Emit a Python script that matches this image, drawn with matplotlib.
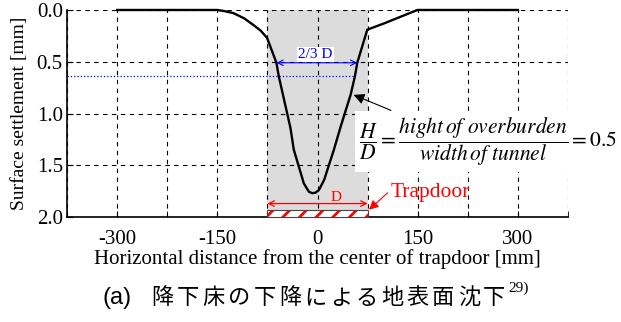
import matplotlib.pyplot as plt
from matplotlib.patches import Rectangle

plt.rcParams['font.family'] = ['Liberation Serif', 'DejaVu Serif']
plt.rcParams['mathtext.fontset'] = 'stix'
plt.rcParams['axes.unicode_minus'] = False
plt.rcParams['hatch.linewidth'] = 2.0

# settlement profile
dist = [-300, -150, -140, -126, -110, -96, -85, -75.5, -61.5, -58, -40.5, -35.5, -20.5, -13, -8, -3,
        2, 10, 24.5, 34.5, 49.5, 56, 59.5, 74.5, 99.5, 124.5, 149.5, 300]
settle = [0.0, 0.0, 0.01, 0.03, 0.08, 0.145, 0.2, 0.27, 0.51, 0.64, 1.14, 1.35, 1.675, 1.755, 1.77, 1.765,
          1.74, 1.64, 1.35, 1.13, 0.82, 0.64, 0.51, 0.19, 0.13, 0.065, 0.0, 0.0]

trap_l, trap_r = -75, 75
trap_top = 1.93
two_thirds_y = 0.64
dotted_end = 56
arrow_23 = (-61.5, 59.5, 0.51)
arrow_d_y = 1.87

xticks_major = [-300, -150, 0, 150, 300]
xticks_minor = [-375, -225, -75, 75, 225, 375]
yticks = [0.0, 0.5, 1.0, 1.5, 2.0]

caption_head = '(a)'
caption_body = '降下床の下降による地表面沈下'
caption_ref = '29)'

fig = plt.figure(figsize=(6.21, 3.22), dpi=100)
ax = fig.add_axes([0.1079, 0.326, 0.8068, 0.643])

ax.axvspan(trap_l, trap_r, color='#dcdcdc', zorder=0.2, lw=0)
ax.plot(dist, settle, color='black', lw=1.7, zorder=3, clip_on=False)

ax.set_xlim(-375, 375)
ax.set_ylim(2.0, 0.0)
ax.set_xticks(xticks_major)
ax.set_xticks(xticks_minor, minor=True)
ax.set_yticks(yticks)
ax.set_yticklabels(['%.1f' % v for v in yticks])
ax.tick_params(axis='x', direction='in', length=4, labelsize=15, pad=9)
ax.tick_params(axis='y', direction='in', length=4, labelsize=15, pad=3)
ax.tick_params(which='minor', direction='in', length=4)
ax.grid(True, which='both', ls=(0, (4, 4)), color='black', lw=0.8)
ax.set_axisbelow(True)
for s in ['top', 'right']:
    ax.spines[s].set_visible(False)
ax.spines['left'].set_linewidth(1.2)
ax.spines['bottom'].set_linewidth(1.2)

ax.set_xlabel('Horizontal distance from the center of trapdoor [mm]', fontsize=15)
ax.set_ylabel('Surface settlement [mm]', fontsize=14)
ax.xaxis.set_label_coords(0.5, -0.155)
ax.yaxis.set_label_coords(-0.078, 0.5)

# 2/3 D marker
ax.plot([-375, dotted_end], [two_thirds_y, two_thirds_y], ls=':', color='blue', lw=0.9, zorder=2)
ax.annotate('', xy=(arrow_23[0], arrow_23[2]), xytext=(arrow_23[1], arrow_23[2]),
            arrowprops=dict(arrowstyle='<->', color='blue', lw=0.8, shrinkA=0, shrinkB=0), zorder=4)
ax.text(-3, 0.43, '2/3 D', color='blue', fontsize=11, ha='center', va='center',
        bbox=dict(facecolor='white', edgecolor='none', pad=1), zorder=4)

# trapdoor
ax.add_patch(Rectangle((trap_l, trap_top), trap_r - trap_l, 2.0 - trap_top, facecolor='white',
                       edgecolor='red', hatch='//', lw=0, zorder=4, clip_on=False))
ax.add_patch(Rectangle((trap_l, trap_top), trap_r - trap_l, 2.0 - trap_top, facecolor='none',
                       edgecolor='#444444', lw=0.8, zorder=5, clip_on=False))
ax.annotate('', xy=(trap_l, arrow_d_y), xytext=(trap_r, arrow_d_y),
            arrowprops=dict(arrowstyle='<->', color='red', lw=0.9, shrinkA=0, shrinkB=0), zorder=4)
ax.text(27, 1.81, 'D', color='red', fontsize=11, ha='center', va='center', zorder=4)
ax.annotate('Trapdoor', xy=(77, 1.93), xytext=(109, 1.76), color='red', fontsize=15.5,
            ha='left', va='center',
            arrowprops=dict(arrowstyle='-|>', color='red', lw=0.8, mutation_scale=14,
                            shrinkA=0, shrinkB=0, relpos=(0, 0.6)))

# H/D note
ax.annotate('', xy=(54, 0.82), xytext=(110, 0.97),
            arrowprops=dict(arrowstyle='-|>', color='black', lw=0.8, mutation_scale=16,
                            shrinkA=0, shrinkB=0), zorder=6)
ax.text(256, 1.27, r'$\dfrac{H}{D}=\dfrac{hight\,of\ overburden}{width\,of\ tunnel}=0.5$',
        fontsize=15.5, ha='center', va='center', zorder=5,
        bbox=dict(facecolor='white', edgecolor='none', pad=3))

# caption, spaced out one glyph at a time
W, H = 621.0, 322.0
cap_y = 1 - 298 / H
fig.text(103 / W, cap_y, caption_head, fontsize=17, family=['Liberation Sans', 'DejaVu Sans'],
         ha='left', va='center')
for i, ch in enumerate(caption_body):
    fig.text((162.75 + i * 25.5) / W, cap_y, ch, fontsize=16,
             family=['Noto Sans CJK JP', 'DejaVu Sans'], ha='center', va='center')
fig.text(508 / W, 1 - 288 / H, caption_ref, fontsize=11, ha='left', va='center')

fig.savefig('out.png', dpi=100)
